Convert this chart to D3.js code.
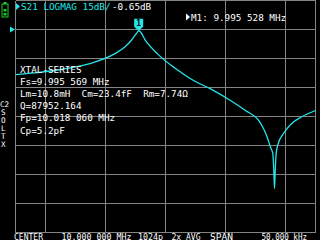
<!DOCTYPE html>
<html>
<head>
<meta charset="utf-8">
<script src="https://cdn.jsdelivr.net/npm/d3@7"></script>
<style>
  html, body { margin: 0; padding: 0; background: #000; }
  svg { display: block; }
  text { font-family: "DejaVu Sans Mono", "Liberation Mono", monospace; font-size: 9.3px; white-space: pre; }
</style>
</head>
<body>
<div id="screen"></div>
<script>
// sweep values (MHz, S21 dB)
var freqMHz = [9.975000, 9.978170, 9.981500, 9.984830, 9.988170, 9.991500, 9.993170, 9.994280,
  9.995120, 9.995570, 9.996670, 9.998670, 10.001670, 10.004670, 10.007500, 10.010830,
  10.013330, 10.015550, 10.016330, 10.016950, 10.017500, 10.017880, 10.018050, 10.018170,
  10.018300, 10.018450, 10.018780, 10.019450, 10.020280, 10.021330, 10.022500, 10.025000];
var s21dB = [-23.3, -22.4, -21.2, -19.5, -16.9, -12.6, -9.2, -5.7,
  -2.2, -0.65, -5.7, -12.6, -20.2, -26.4, -30.7, -36.7,
  -41.9, -47.1, -51.2, -55.7, -60.9, -64.1, -72.9, -82.2,
  -72.0, -64.1, -59.0, -54.8, -51.2, -47.9, -45.5, -41.9];

var freqGrid = [9.975, 9.98, 9.99, 10.0, 10.01, 10.02, 10.025];
var dbGrid = [15, 0, -15, -30, -45, -60, -75, -90, -105];

var marker = {name: "1", freq: 9.995528, db: -0.65};
var xtalLines = ["XTAL-SERIES", "Fs=9.995 569 MHz", "Lm=10.8mH  Cm=23.4fF  Rm=7.74\u03a9",
  "Q=87952.164", "Fp=10.018 060 MHz", "Cp=5.2pF"];
var calLetters = ["C2", "S", "O", "L", "T", "X"];

var W = 320, H = 240;
var cyan = "#22e6ea", grey = "#848484";

var svg = d3.select("#screen").append("svg")
  .attr("width", W).attr("height", H);
svg.append("rect").attr("width", W).attr("height", H).attr("fill", "#000");

var x = d3.scaleLinear().domain([9.975, 10.025]).range([15.5, 315.5]);
var y = d3.scaleLinear().domain([15, -105]).range([0.5, 232.5]);

// grid
svg.append("g").selectAll("line").data(freqGrid).enter().append("line")
  .attr("x1", function(d) { return Math.round(x(d) - 0.5) + 0.5; })
  .attr("x2", function(d) { return Math.round(x(d) - 0.5) + 0.5; })
  .attr("y1", y(15)).attr("y2", y(-105))
  .attr("stroke", grey).attr("shape-rendering", "crispEdges");
svg.append("g").selectAll("line").data(dbGrid).enter().append("line")
  .attr("y1", function(d) { return y(d); })
  .attr("y2", function(d) { return y(d); })
  .attr("x1", x(9.975)).attr("x2", x(10.025))
  .attr("stroke", grey).attr("shape-rendering", "crispEdges");

// trace
var line = d3.line()
  .x(function(d, i) { return x(freqMHz[i]); })
  .y(function(d) { return y(d); })
  .curve(d3.curveMonotoneX);
svg.append("path").datum(s21dB)
  .attr("d", line)
  .attr("fill", "none")
  .attr("stroke", cyan)
  .attr("stroke-width", 1.3);

// reference arrow at 0 dB
svg.append("path")
  .attr("d", "M10," + (y(0) - 3) + "L15," + y(0) + "L10," + (y(0) + 3) + "Z")
  .attr("fill", cyan);

// marker 1
var mx = x(marker.freq), my = y(marker.db);
svg.append("path")
  .attr("d", "M" + (mx - 4.5) + "," + (my - 12) + "h9v8l-4.5,4l-4.5,-4Z")
  .attr("fill", cyan);
svg.append("text").attr("x", mx).attr("y", my - 5)
  .attr("text-anchor", "middle").attr("fill", "#000")
  .style("font-size", "8px").style("font-weight", "bold")
  .text(marker.name);

// battery
svg.append("rect").attr("x", 3.5).attr("y", 2).attr("width", 3).attr("height", 2).attr("fill", "#2c2");
svg.append("rect").attr("x", 2).attr("y", 4).attr("width", 6).attr("height", 13)
  .attr("fill", "none").attr("stroke", "#2c2");
svg.append("rect").attr("x", 3.5).attr("y", 9).attr("width", 3).attr("height", 2.5).attr("fill", "#2c2");
svg.append("rect").attr("x", 3.5).attr("y", 13).attr("width", 3).attr("height", 2.5).attr("fill", "#2c2");

// header
svg.append("path").attr("d", "M16,3L20,6.5L16,10Z").attr("fill", cyan);
svg.append("text").attr("x", 21).attr("y", 10).attr("fill", cyan).text("S21 LOGMAG 15dB/");
svg.append("text").attr("x", 112).attr("y", 10).attr("fill", "#fff").text("-0.65dB");
svg.append("path").attr("d", "M186,13.5L190,17L186,20.5Z").attr("fill", "#fff");
svg.append("text").attr("x", 191).attr("y", 20.5).attr("fill", "#fff")
  .text("M1: 9.995 528 MHz");

// crystal results
svg.append("g").selectAll("text").data(xtalLines).enter().append("text")
  .attr("x", 20)
  .attr("y", function(d, i) { return 72.5 + i * 12.2; })
  .attr("fill", "#fff")
  .attr("xml:space", "preserve")
  .text(function(d) { return d; });

// calibration status letters
svg.append("g").selectAll("text").data(calLetters).enter().append("text")
  .attr("x", function(d, i) { return i == 0 ? 0 : 1; })
  .attr("y", function(d, i) { return 107 + i * 8; })
  .attr("fill", "#fff")
  .style("font-size", "7.6px")
  .text(function(d) { return d; });

// footer
var footer = [
  {t: "CENTER", x: 14, w: 29},
  {t: "10.000 000 MHz", x: 61.5, w: 70},
  {t: "1024p", x: 138, w: 25},
  {t: "2x AVG", x: 171.5, w: 29},
  {t: "SPAN", x: 210, w: 23},
  {t: "50.000 kHz", x: 261.5, w: 45.5}
];
svg.append("g").selectAll("text").data(footer).enter().append("text")
  .attr("x", function(d) { return d.x; })
  .attr("y", 239.5)
  .attr("fill", "#fff")
  .attr("textLength", function(d) { return d.w; })
  .attr("lengthAdjust", "spacingAndGlyphs")
  .text(function(d) { return d.t; });
</script>
</body>
</html>
